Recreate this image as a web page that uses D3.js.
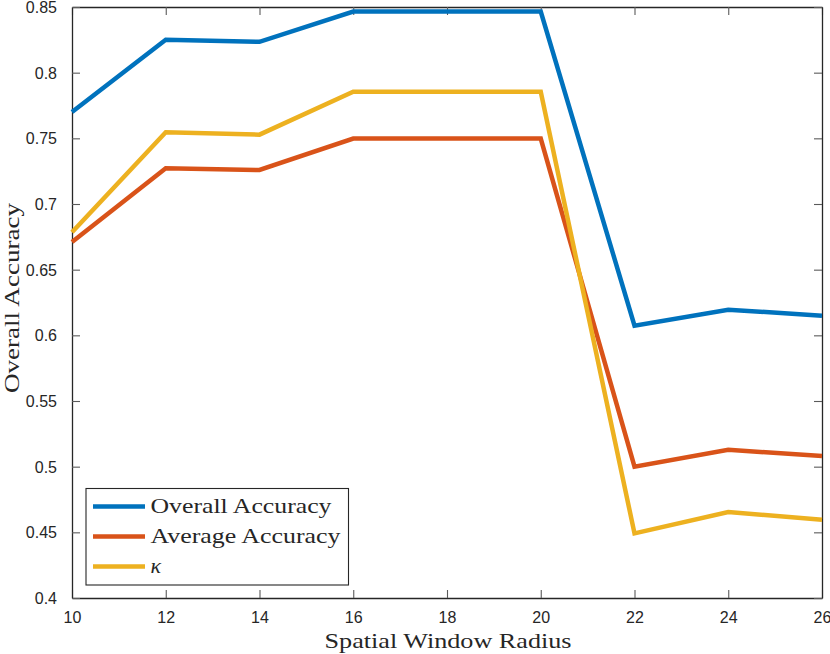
<!DOCTYPE html>
<html><head><meta charset="utf-8">
<script src="https://cdn.jsdelivr.net/npm/d3@7"></script>
<style>
html,body{margin:0;padding:0;background:#fff;}
svg{display:block;}
</style>
</head><body>
<svg id="chart" width="830" height="654"></svg>
<script>
const radius = [10, 12, 14, 16, 18, 20, 22, 24, 26];
const overallAccuracy = [0.770, 0.825, 0.8235, 0.8465, 0.8465, 0.8465, 0.6073, 0.6195, 0.615];
const averageAccuracy = [0.671, 0.7272, 0.7259, 0.7498, 0.7498, 0.7498, 0.500, 0.5128, 0.5082];
const kappa = [0.6785, 0.7546, 0.7528, 0.7855, 0.7855, 0.7855, 0.4492, 0.4655, 0.4595];
const seriesNames = ["Overall Accuracy", "Average Accuracy", "\u03BA"];
const seriesColors = ["#0072BD", "#D95319", "#EDB120"];
const xTicks = [10, 12, 14, 16, 18, 20, 22, 24, 26];
const yTicks = [0.4, 0.45, 0.5, 0.55, 0.6, 0.65, 0.7, 0.75, 0.8, 0.85];

const svg = d3.select("#chart");
const L = 72, R = 822, T = 7, B = 598;
const x = d3.scaleLinear().domain([10, 26]).range([L, R]);
const y = d3.scaleLinear().domain([0.4, 0.85]).range([B, T]);

const axisColor = "#262626";
const tickFont = "'Liberation Sans', Arial, Helvetica, sans-serif";
const serif = "'Liberation Serif', 'DejaVu Serif', serif";

// axes (ticks inward)
const gx = svg.append("g").attr("transform", `translate(0,${B})`)
  .call(d3.axisBottom(x).tickValues(xTicks).tickSizeInner(-8).tickSizeOuter(0).tickPadding(14).tickFormat(d3.format("d")));
const gxTop = svg.append("g").attr("transform", `translate(0,${T})`)
  .call(d3.axisTop(x).tickValues(xTicks).tickSizeInner(-8).tickSizeOuter(0).tickFormat(""));
const gy = svg.append("g").attr("transform", `translate(${L},0)`)
  .call(d3.axisLeft(y).tickValues(yTicks).tickSizeInner(-8).tickSizeOuter(0).tickPadding(15).tickFormat(d => d3.format("")(+d.toFixed(2))));
const gyR = svg.append("g").attr("transform", `translate(${R},0)`)
  .call(d3.axisRight(y).tickValues(yTicks).tickSizeInner(-8).tickSizeOuter(0).tickFormat(""));

[gx, gxTop, gy, gyR].forEach(g => {
  g.select(".domain").attr("stroke", axisColor).attr("stroke-width", 1.3);
  g.selectAll(".tick line").attr("stroke", "#5a5a5a").attr("stroke-width", 1.1);
  g.selectAll(".tick text").attr("fill", axisColor).attr("font-family", tickFont).attr("font-size", 16);
});
gy.selectAll(".tick text").attr("dy", "0.35em");

// lines
const allSeries = [overallAccuracy, averageAccuracy, kappa];
const line = d3.line().x((d, i) => x(radius[i])).y(d => y(d));
allSeries.forEach((vals, k) => {
  svg.append("path").datum(vals)
    .attr("d", line)
    .attr("fill", "none")
    .attr("stroke", seriesColors[k])
    .attr("stroke-width", 4.5)
    .attr("stroke-linejoin", "miter");
});

// axis labels
svg.append("text").attr("x", 448).attr("y", 648)
  .attr("text-anchor", "middle").attr("font-family", serif).attr("font-size", 22)
  .attr("textLength", 247).attr("lengthAdjust", "spacingAndGlyphs")
  .attr("fill", axisColor).text("Spatial Window Radius");
svg.append("text").attr("transform", `translate(19,298) rotate(-90)`)
  .attr("text-anchor", "middle").attr("font-family", serif).attr("font-size", 21)
  .attr("textLength", 190).attr("lengthAdjust", "spacingAndGlyphs")
  .attr("fill", axisColor).text("Overall Accuracy");

// legend
const legendWidths = [181, 190, null];
const lg = svg.append("g");
lg.append("rect").attr("x", 86).attr("y", 488.5).attr("width", 262.5).attr("height", 96.5)
  .attr("fill", "#fff").attr("stroke", axisColor).attr("stroke-width", 1.1);
seriesNames.forEach((name, k) => {
  const cy = 506.5 + k * 30;
  lg.append("line").attr("x1", 93).attr("x2", 145).attr("y1", cy).attr("y2", cy)
    .attr("stroke", seriesColors[k]).attr("stroke-width", 4.5);
  const t = lg.append("text").attr("x", 150.5).attr("y", cy + 6.5)
    .attr("font-family", serif).attr("font-size", k === 2 ? 22 : 21)
    .attr("font-style", k === 2 ? "italic" : "normal")
    .attr("fill", axisColor).text(name);
  if (legendWidths[k]) t.attr("textLength", legendWidths[k]).attr("lengthAdjust", "spacingAndGlyphs");
});
</script>
</body></html>
